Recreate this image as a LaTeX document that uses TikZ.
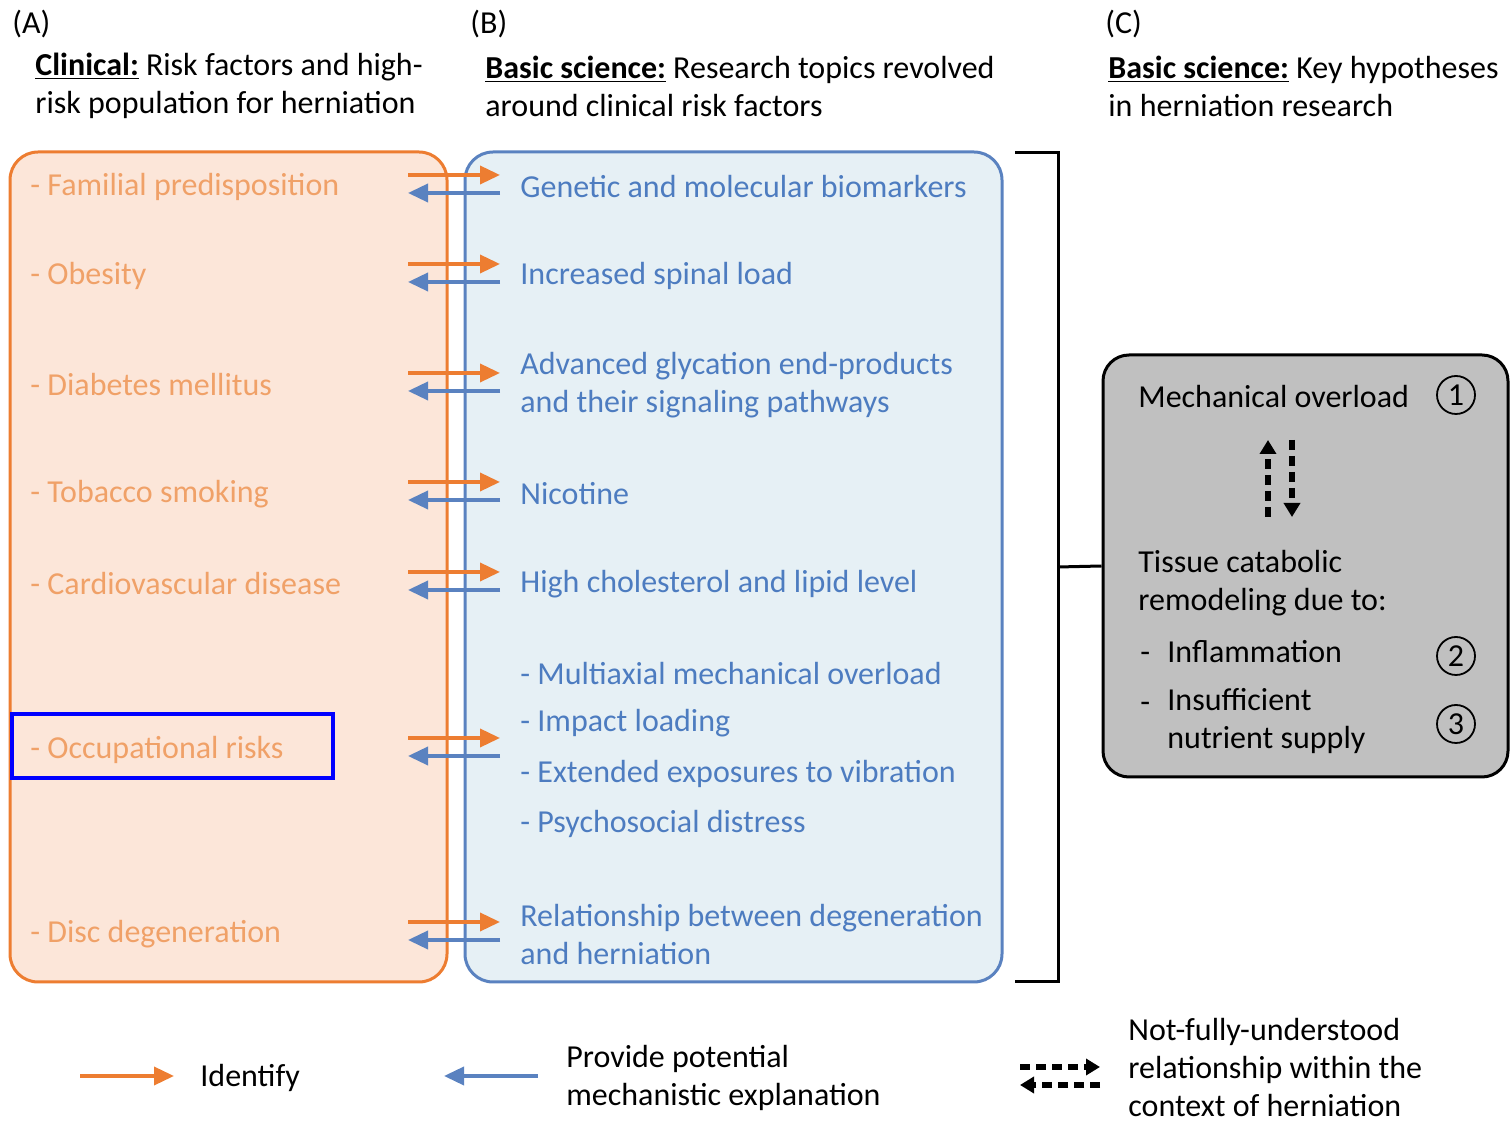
\documentclass[tikz,border=0pt]{standalone}
\usepackage{fontspec}
\setmainfont{Carlito}
\usetikzlibrary{arrows.meta, positioning, shapes.geometric}

\definecolor{riskline}{HTML}{ED7D31}
\definecolor{riskfill}{HTML}{FCE6D9}
\definecolor{risktext}{HTML}{F0A168}
\definecolor{sciline}{HTML}{5A82C0}
\definecolor{scifill}{HTML}{E6F0F5}
\definecolor{scitext}{HTML}{4D7CC0}
\definecolor{hypfill}{HTML}{C0C0C0}

\begin{document}
\begin{tikzpicture}[
    x=0.5pt, y=-0.5pt,
    font=\fontsize{16}{19}\selectfont,
    panel/.style={rectangle, rounded corners=14pt, line width=1.5pt, inner sep=0pt},
    risk/.style={anchor=west, inner sep=0pt, text=risktext},
    topic/.style={anchor=west, inner sep=0pt, text=scitext, align=left},
    plain/.style={anchor=west, inner sep=0pt, align=left},
    num/.style={circle, draw=black, line width=0.9pt, minimum size=19pt, inner sep=0pt},
    identify/.style={draw=riskline, line width=1.8pt, -{Triangle[length=10pt, width=9pt]}},
    explain/.style={draw=sciline, line width=1.8pt, -{Triangle[length=10pt, width=9pt]}},
    unclear/.style={draw=black, line width=2.6pt, dash pattern=on 5pt off 3pt, -{Triangle[length=7pt, width=8pt]}}
]
    \useasboundingbox (0,0) rectangle (1512,1127);

    % Panel labels and headings
    \node[plain] (labA) at (12,24) {(A)};
    \node[plain] (labB) at (470,24) {(B)};
    \node[plain] (labC) at (1105,24) {(C)};
    \node[plain] (headA) at (35,86) {\underline{\textbf{Clinical:}} Risk factors and high-\\risk population for herniation};
    \node[plain] (headB) at (485,86) {\underline{\textbf{Basic science:}} Research topics revolved\\around clinical risk factors};
    \node[plain] (headC) at (1108,86) {\underline{\textbf{Basic science:}} Key hypotheses\\in herniation research};

    % Clinical and basic science panels
    \node[panel, draw=riskline, fill=riskfill, minimum width=218.5pt, minimum height=415pt] (clin) at (228.5,567) {};
    \node[panel, draw=sciline, fill=scifill, minimum width=268.5pt, minimum height=415pt] (sci) at (733.5,567) {};

    % Risk factors
    \node[risk] (fam) at (30,187) {- Familial predisposition};
    \node[risk] (obe) at (30,276) {- Obesity};
    \node[risk] (dia) at (30,385) {- Diabetes mellitus};
    \node[risk] (tob) at (30,494) {- Tobacco smoking};
    \node[risk] (car) at (30,584) {- Cardiovascular disease};
    \node[risk] (occ) at (30,750) {- Occupational risks};
    \node[risk] (dis) at (30,934) {- Disc degeneration};

    % Research topics
    \node[topic] (gen) at (520,187) {Genetic and molecular biomarkers};
    \node[topic] (spl) at (520,276) {Increased spinal load};
    \node[topic] (age) at (520,385) {Advanced glycation end-products\\and their signaling pathways};
    \node[topic] (nic) at (520,494) {Nicotine};
    \node[topic] (cho) at (520,584) {High cholesterol and lipid level};
    \node[topic] (mul) at (520,674) {- Multiaxial mechanical overload};
    \node[topic] (imp) at (520,723) {- Impact loading};
    \node[topic] (vib) at (520,774) {- Extended exposures to vibration};
    \node[topic] (psy) at (520,824) {- Psychosocial distress};
    \node[topic] (rel) at (520,935) {Relationship between degeneration\\and herniation};

    % Arrows between panels
    \foreach \row/\y in {1/185, 2/274, 3/383, 4/492, 5/582, 6/748, 7/932} {
        \coordinate (ol\row) at (408,\y-10);
        \coordinate (or\row) at (500,\y-10);
        \coordinate (bl\row) at (408,\y+8);
        \coordinate (br\row) at (500,\y+8);
        \draw[identify] (ol\row) -- (or\row);
        \draw[explain] (br\row) -- (bl\row);
    }

    % Highlight
    \draw[blue, line width=2pt] (12,714) rectangle (333,778);

    % Bracket
    \coordinate (bt) at (1015,153);
    \coordinate (bb) at (1015,982);
    \coordinate (bm) at (1058,567);
    \draw[line width=1.5pt] (bt) -- (1058,153) -- (1058,982) -- (bb);

    % Hypotheses
    \node[panel, draw=black, fill=hypfill, rounded corners=13pt, minimum width=202.5pt, minimum height=211pt] (hyp) at (1305.5,566) {};
    \draw[line width=1.5pt] (bm) -- (hyp.west);
    \node[plain] (mech) at (1138,397) {Mechanical overload};
    \node[num] (n1) at (1456,395) {1};
    \coordinate (up1) at (1268,517);
    \coordinate (up2) at (1268,440);
    \coordinate (dn1) at (1292,440);
    \coordinate (dn2) at (1292,517);
    \draw[unclear] (up1) -- (up2);
    \draw[unclear] (dn1) -- (dn2);
    \node[plain] (tis) at (1138,583) {Tissue catabolic\\remodeling due to:};
    \node[plain] (d1) at (1140,657) {-};
    \node[plain] (inf) at (1167,652) {Inflammation};
    \node[num] (n2) at (1456,656) {2};
    \node[plain] (d2) at (1140,707) {-};
    \node[plain] (nut) at (1167,721) {Insufficient\\nutrient supply};
    \node[num] (n3) at (1456,724) {3};

    % Legend
    \coordinate (li1) at (80,1076);
    \coordinate (li2) at (174,1076);
    \draw[identify] (li1) -- (li2);
    \node[plain] (lid) at (200,1078) {Identify};
    \coordinate (le1) at (538,1076);
    \coordinate (le2) at (444,1076);
    \draw[explain] (le1) -- (le2);
    \node[plain] (lex) at (566,1078) {Provide potential\\mechanistic explanation};
    \coordinate (lu1) at (1020,1067);
    \coordinate (lu2) at (1100,1067);
    \coordinate (lu3) at (1100,1085);
    \coordinate (lu4) at (1020,1085);
    \draw[unclear] (lu1) -- (lu2);
    \draw[unclear] (lu3) -- (lu4);
    \node[plain] (lun) at (1128,1068) {Not-fully-understood\\relationship within the\\context of herniation};
\end{tikzpicture}
\end{document}
